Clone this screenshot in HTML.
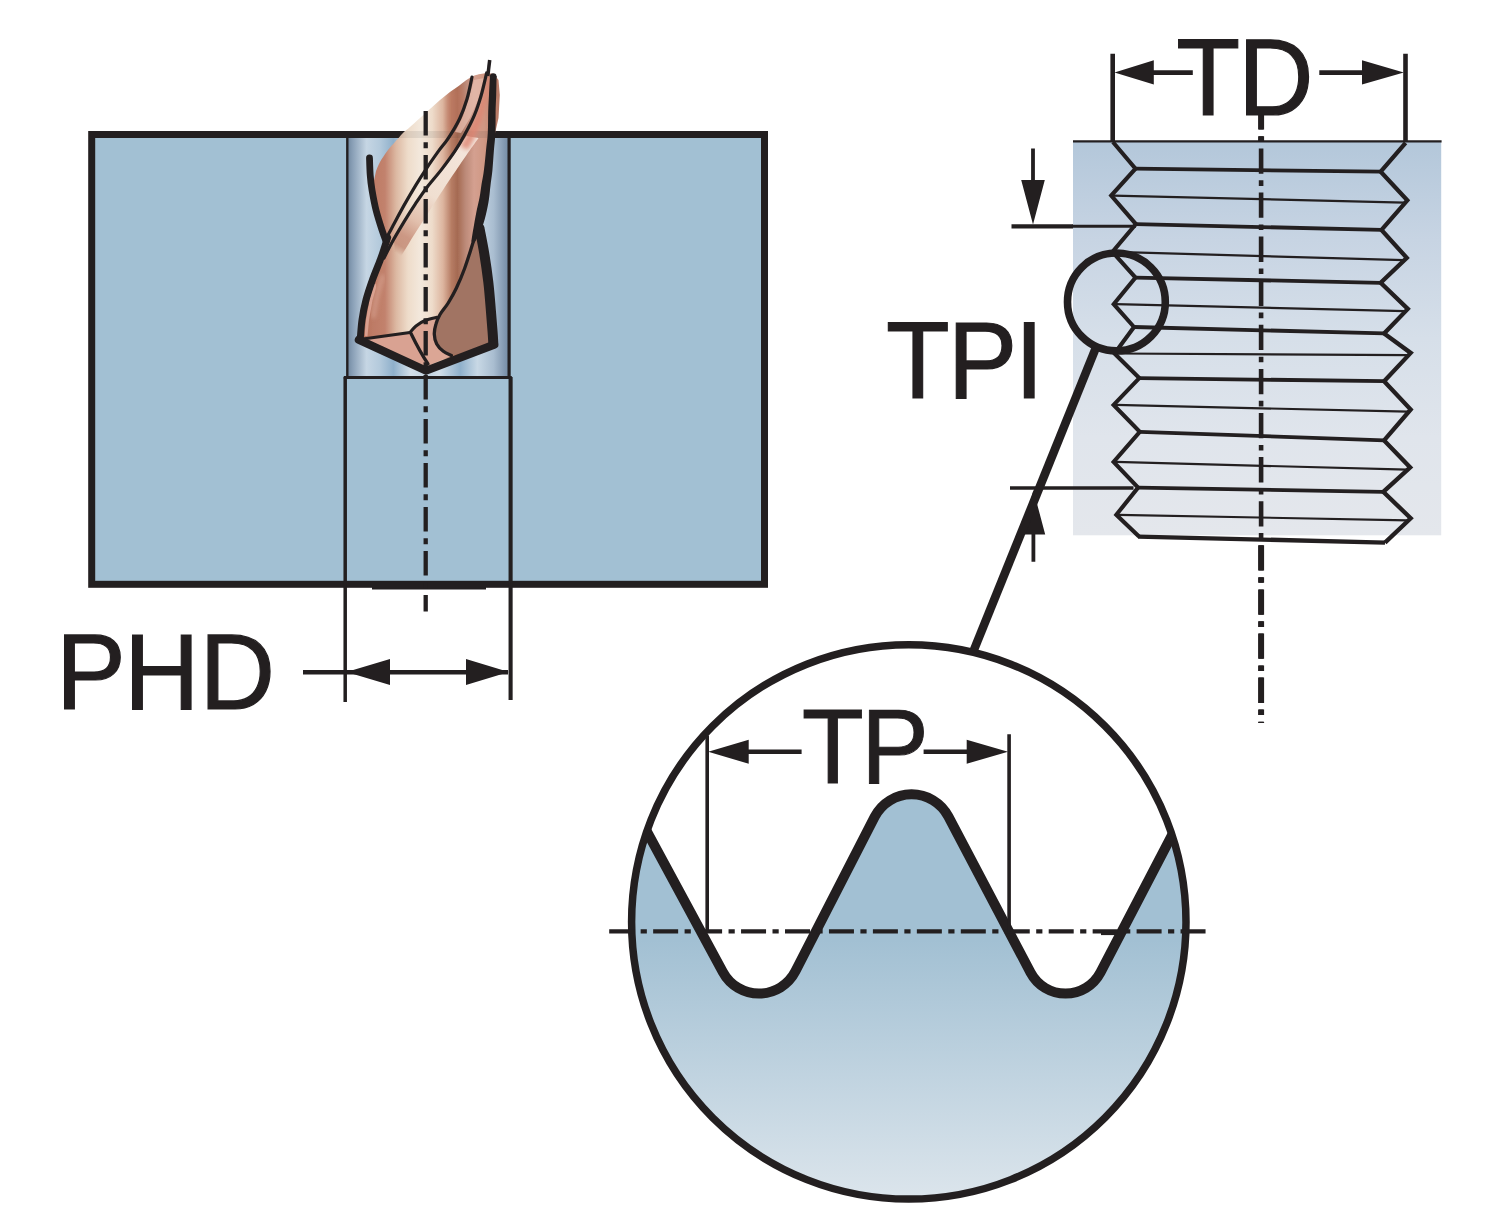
<!DOCTYPE html>
<html lang="en">
<head>
<meta charset="utf-8">
<title>PHD / TD / TPI / TP thread dimensions</title>
<style>
html,body{margin:0;padding:0;background:#fff;}
body{width:1500px;height:1223px;overflow:hidden;}
svg{display:block;}
text{font-family:"Liberation Sans",sans-serif;fill:#231f20;}
</style>
</head>
<body>
<svg width="1500" height="1223" viewBox="0 0 1500 1223">
<rect width="1500" height="1223" fill="#fff"/>
<defs>
<linearGradient id="gHole" gradientUnits="userSpaceOnUse" x1="347" y1="0" x2="510" y2="0">
 <stop offset="0" stop-color="#6f879f"/>
 <stop offset="0.035" stop-color="#8aa0b7"/>
 <stop offset="0.12" stop-color="#c6d6e4"/>
 <stop offset="0.20" stop-color="#b4cadc"/>
 <stop offset="0.285" stop-color="#8fb0cb"/>
 <stop offset="0.39" stop-color="#d3dfe9"/>
 <stop offset="0.50" stop-color="#c2d3e1"/>
 <stop offset="0.565" stop-color="#d3dfe9"/>
 <stop offset="0.695" stop-color="#8fb0cb"/>
 <stop offset="0.80" stop-color="#c8d8e5"/>
 <stop offset="0.90" stop-color="#a9bdd0"/>
 <stop offset="0.965" stop-color="#8298b0"/>
 <stop offset="1" stop-color="#6f879f"/>
</linearGradient>
<linearGradient id="gThread" gradientUnits="userSpaceOnUse" x1="0" y1="141" x2="0" y2="536">
 <stop offset="0" stop-color="#b3c7da"/>
 <stop offset="0.25" stop-color="#c7d4e3"/>
 <stop offset="0.5" stop-color="#d6dfe9"/>
 <stop offset="0.75" stop-color="#e0e5ec"/>
 <stop offset="1" stop-color="#e4e7ec"/>
</linearGradient>
<linearGradient id="gBig" gradientUnits="userSpaceOnUse" x1="0" y1="940" x2="0" y2="1200">
 <stop offset="0" stop-color="#a2c0d3"/>
 <stop offset="1" stop-color="#dce5ec"/>
</linearGradient>
<clipPath id="cOut"><path d="M1240 100 H1280 V141 H1240 Z M1240 540 H1280 V730 H1240 Z"/></clipPath>
<clipPath id="cBig"><circle cx="908.8" cy="921.9" r="277.2"/></clipPath>
</defs>
<g id="left">
<rect x="91.7" y="134.5" width="672.8" height="449.8" fill="#a2c0d3" stroke="#231f20" stroke-width="7"/>
<rect x="347" y="138" width="163" height="239.5" fill="url(#gHole)"/>
<path d="M347.3 137 V377.5" stroke="#231f20" stroke-width="2.4" fill="none"/>
<path d="M509.1 137 V377.5" stroke="#231f20" stroke-width="3.2" fill="none"/>
<path d="M343.8 377.5 H511.8" stroke="#231f20" stroke-width="2.8" fill="none"/>
<path d="M345.2 377 V702" stroke="#231f20" stroke-width="3.5" fill="none"/>
<path d="M510.6 377 V700" stroke="#231f20" stroke-width="4.1" fill="none"/>
<path d="M372 588.3 H486" stroke="#231f20" stroke-width="2.4" fill="none"/>
</g>
<g id="drill">
<defs>
<linearGradient id="gCu2" gradientUnits="userSpaceOnUse" x1="357" y1="0" x2="497" y2="0">
 <stop offset="0" stop-color="#b06a54"/>
 <stop offset="0.107" stop-color="#bd7a65"/>
 <stop offset="0.2" stop-color="#c2826d"/>
 <stop offset="0.279" stop-color="#dcb8a2"/>
 <stop offset="0.364" stop-color="#eedcca"/>
 <stop offset="0.45" stop-color="#f3e8dc"/>
 <stop offset="0.536" stop-color="#eedccb"/>
 <stop offset="0.615" stop-color="#dcb49e"/>
 <stop offset="0.675" stop-color="#b67c64"/>
 <stop offset="0.717" stop-color="#a56a52"/>
 <stop offset="0.775" stop-color="#bc8a78"/>
 <stop offset="0.836" stop-color="#d4a090"/>
 <stop offset="0.907" stop-color="#d09884"/>
 <stop offset="1" stop-color="#b87a66"/>
</linearGradient>
<filter id="fSoft" x="-5%" y="-5%" width="110%" height="110%"><feGaussianBlur stdDeviation="0.6"/></filter>
<linearGradient id="gStreak" gradientUnits="userSpaceOnUse" x1="470" y1="140" x2="398" y2="254">
 <stop offset="0" stop-color="#f4e6dc"/>
 <stop offset="0.5" stop-color="#f0dfd1"/>
 <stop offset="0.72" stop-color="#e2c0ad"/>
 <stop offset="0.86" stop-color="#cc9884"/>
 <stop offset="0.94" stop-color="#c38a75" stop-opacity="0.8"/>
 <stop offset="1" stop-color="#c08670" stop-opacity="0"/>
</linearGradient>
<filter id="fSoft3" x="-10%" y="-10%" width="120%" height="120%"><feGaussianBlur stdDeviation="0.7"/></filter>
<filter id="fSoft2" x="-20%" y="-20%" width="140%" height="140%"><feGaussianBlur stdDeviation="2"/></filter>
</defs>
<clipPath id="cBody"><path d="M487.0 73.0 C485.2 73.3 479.2 74.0 476.0 75.0 C472.8 76.0 470.7 77.3 468.0 79.0 C465.3 80.7 463.0 82.8 460.0 85.0 C457.0 87.2 453.3 89.5 450.0 92.0 C446.7 94.5 443.3 97.2 440.0 100.0 C436.7 102.8 433.3 106.0 430.0 109.0 C426.7 112.0 423.3 115.0 420.0 118.0 C416.7 121.0 412.8 124.5 410.0 127.0 C407.2 129.5 405.5 130.5 403.0 133.0 C400.5 135.5 397.5 139.2 395.0 142.0 C392.5 144.8 390.5 146.7 388.0 150.0 C385.5 153.3 382.0 158.5 380.0 162.0 C378.0 165.5 376.7 169.5 376.0 171.0 L372 190 L376 210 L382 230 L386 241 L384.6 247 L380.4 259.5 L372.6 279.5 L366 300 L362 320 L360.3 338 L358.8 339.8 L426 370.7 L494.3 344.6 L492.6 332 L491 312 L488.3 282 L484 252 L479.5 228 L483 205 L487 180 L490 155 L494 138 L498.5 118 L499.8 95 L498.5 80 L494 74 Z"/></clipPath>
<path d="M487.0 73.0 C485.2 73.3 479.2 74.0 476.0 75.0 C472.8 76.0 470.7 77.3 468.0 79.0 C465.3 80.7 463.0 82.8 460.0 85.0 C457.0 87.2 453.3 89.5 450.0 92.0 C446.7 94.5 443.3 97.2 440.0 100.0 C436.7 102.8 433.3 106.0 430.0 109.0 C426.7 112.0 423.3 115.0 420.0 118.0 C416.7 121.0 412.8 124.5 410.0 127.0 C407.2 129.5 405.5 130.5 403.0 133.0 C400.5 135.5 397.5 139.2 395.0 142.0 C392.5 144.8 390.5 146.7 388.0 150.0 C385.5 153.3 382.0 158.5 380.0 162.0 C378.0 165.5 376.7 169.5 376.0 171.0 L372 190 L376 210 L382 230 L386 241 L384.6 247 L380.4 259.5 L372.6 279.5 L366 300 L362 320 L360.3 338 L358.8 339.8 L426 370.7 L494.3 344.6 L492.6 332 L491 312 L488.3 282 L484 252 L479.5 228 L483 205 L487 180 L490 155 L494 138 L498.5 118 L499.8 95 L498.5 80 L494 74 Z" fill="url(#gCu2)" filter="url(#fSoft)"/>
<g clip-path="url(#cBody)">
<rect x="395" y="131" width="110" height="7" fill="#231f20" opacity="0.09"/>
<path d="M466.5 136.0 C464.8 138.6 460.1 145.8 456.2 151.4 C452.3 157.0 447.7 163.4 443.1 169.4 C438.5 175.4 432.8 181.7 428.4 187.4 C424.0 193.1 420.7 198.1 416.9 203.8 C413.1 209.5 409.3 215.5 405.5 221.8 C401.7 228.1 395.9 238.1 394.0 241.4 L395.5 263.0 C396.8 261.3 399.9 257.7 403.0 253.0 C406.1 248.3 410.3 240.8 414.0 235.0 C417.7 229.2 421.2 224.0 425.0 218.0 C428.8 212.0 432.9 205.3 437.0 199.0 C441.1 192.7 445.5 186.0 449.5 180.0 C453.5 174.0 457.6 168.0 461.0 163.0 C464.4 158.0 467.1 154.2 470.0 150.0 C472.9 145.8 477.1 140.0 478.5 138.0 Z" fill="url(#gStreak)" filter="url(#fSoft3)"/>
<path d="M447 95 L462 84 L466 100 L462 125 L452 140 L447 128 Z" fill="#c47862" opacity="0.45" filter="url(#fSoft2)"/>
<path d="M488.0 74.0 C487.1 77.7 484.5 89.1 482.5 96.0 C480.5 102.9 478.7 108.9 476.0 115.4 C473.3 121.9 469.2 129.9 466.5 135.0 C463.8 140.1 461.1 144.2 460.0 146.0 L468 150 C469.5 147.2 474.3 139.3 477.0 133.0 C479.7 126.7 482.0 119.2 484.0 112.0 C486.0 104.8 487.8 96.0 489.0 90.0 C490.2 84.0 490.7 78.3 491.0 76.0 Z" fill="#dd8471" opacity="0.8" filter="url(#fSoft2)"/>
<path d="M474 80 L484 78 L478 100 L470 118 L461 133 L455 132 L463 116 L469 98 Z" fill="#e6bcae" opacity="0.75" filter="url(#fSoft)"/>
<path d="M375.5 284 L371 300 L367.5 320 L366 336" fill="none" stroke="#e2ab9b" stroke-width="3" opacity="0.8" filter="url(#fSoft)"/>
<path d="M383 275 L377 296 L373 318" fill="none" stroke="#dfae9d" stroke-width="4" opacity="0.6" filter="url(#fSoft2)"/>
<path d="M476.0 232.7 C475.2 235.4 472.9 243.0 471.0 249.0 C469.1 255.0 466.9 262.1 464.5 268.7 C462.1 275.2 459.0 282.6 456.3 288.3 C453.6 294.0 450.9 298.6 448.2 303.0 C445.5 307.4 442.1 310.9 440.0 314.5 C437.9 318.1 436.8 321.0 435.9 324.3 C434.9 327.6 434.2 330.9 434.3 334.2 C434.4 337.5 435.2 341.1 436.7 344.0 C438.2 346.9 440.9 349.4 443.3 351.3 C445.8 353.2 450.0 354.7 451.4 355.4 L494.3 344.6 L492.6 332 L491 312 L488.3 282 L484 252 L479.5 228 Z" fill="#a17463"/>
<path d="M363 339 L410 332.5 L428 365 L426 371 Z" fill="#d9a292"/>
<path d="M410.0 332.5 C411.0 331.4 413.5 328.0 416.0 326.0 C418.5 324.0 421.5 321.9 425.0 320.5 C428.5 319.1 435.0 317.8 437.0 317.3 L434.5 328 L434 336 L437 344 L443 350 L451 355.5 L428 366 L411 333.5 Z" fill="#dba695"/>
</g>
<path d="M472.0 77.0 C471.2 80.7 469.1 92.0 467.0 99.0 C464.9 106.0 462.7 112.2 459.6 118.7 C456.5 125.2 451.8 132.9 448.2 138.3 C444.6 143.8 441.9 146.5 438.3 151.4 C434.8 156.3 430.7 162.1 426.9 167.8 C423.1 173.5 419.2 179.5 415.4 185.8 C411.6 192.1 407.5 199.1 404.0 205.4 C400.5 211.7 397.2 217.8 394.2 223.4 C391.2 229.0 387.4 236.4 386.0 239.0" fill="none" stroke="#231f20" stroke-linecap="round" stroke-linejoin="round" stroke-width="3.2"/>
<path d="M486.6 73.0 C485.7 76.8 483.1 88.9 481.0 96.0 C478.9 103.1 477.1 108.9 474.3 115.4 C471.6 121.9 467.8 129.0 464.5 135.0 C461.2 141.0 458.5 145.7 454.7 151.4 C450.9 157.1 446.2 163.4 441.6 169.4 C437.0 175.4 431.3 181.7 426.9 187.4 C422.5 193.1 419.2 198.1 415.4 203.8 C411.6 209.5 407.8 215.5 404.0 221.8 C400.2 228.1 395.8 235.4 392.5 241.4 C389.2 247.4 385.4 255.2 384.0 258.0" fill="none" stroke="#231f20" stroke-linecap="round" stroke-linejoin="round" stroke-width="3.2"/>
<path d="M476.0 232.7 C475.2 235.4 472.9 243.0 471.0 249.0 C469.1 255.0 466.9 262.1 464.5 268.7 C462.1 275.2 459.0 282.6 456.3 288.3 C453.6 294.0 450.9 298.6 448.2 303.0 C445.5 307.4 442.1 310.9 440.0 314.5 C437.9 318.1 436.8 321.0 435.9 324.3 C434.9 327.6 434.2 330.9 434.3 334.2 C434.4 337.5 435.2 341.1 436.7 344.0 C438.2 346.9 440.9 349.4 443.3 351.3 C445.8 353.2 450.0 354.7 451.4 355.4" fill="none" stroke="#231f20" stroke-linecap="round" stroke-linejoin="round" stroke-width="3.3"/>
<path d="M363 339 L410 332.5" fill="none" stroke="#231f20" stroke-linecap="round" stroke-linejoin="round" stroke-width="3"/>
<path d="M410.0 332.5 C411.0 331.4 413.5 328.0 416.0 326.0 C418.5 324.0 421.5 321.9 425.0 320.5 C428.5 319.1 435.0 317.8 437.0 317.3" fill="none" stroke="#231f20" stroke-linecap="round" stroke-linejoin="round" stroke-width="3"/>
<path d="M411 333.5 Q420 352 428 364" fill="none" stroke="#231f20" stroke-linecap="round" stroke-linejoin="round" stroke-width="3.3"/>
<path d="M489.7 60 L487.8 76" fill="none" stroke="#231f20" stroke-width="3.5"/>
<path d="M490.0 75.9 C489.8 79.0 489.3 88.9 489.0 94.9 C488.7 100.9 488.4 105.6 488.2 111.9 C488.0 118.2 488.2 126.5 487.8 132.8 C487.5 139.1 486.7 143.5 486.1 149.6 C485.5 155.8 484.8 163.7 484.0 169.5 C483.3 175.3 482.3 179.8 481.5 184.4 C480.8 189.0 480.5 192.4 479.6 197.2 C478.7 201.9 477.2 207.8 476.2 212.9 C475.2 218.0 474.3 223.1 473.5 227.9 C472.6 232.7 471.7 239.2 471.3 241.4 L474.7 242.6 C475.8 240.5 479.3 234.7 481.1 230.1 C483.0 225.5 484.5 220.3 485.8 215.1 C487.1 209.9 488.3 203.7 489.0 198.8 C489.8 193.9 489.9 190.3 490.5 185.6 C491.0 180.9 491.8 176.4 492.4 170.5 C492.9 164.6 493.4 156.6 493.9 150.4 C494.4 144.1 495.1 139.6 495.4 133.2 C495.7 126.8 495.5 118.4 495.6 112.1 C495.7 105.8 496.0 101.1 496.2 95.1 C496.4 89.1 496.5 79.3 496.6 76.1 Z" fill="#231f20"/>
<circle cx="493.2" cy="76.5" r="3.3" fill="#231f20"/>
<path d="M369.5 158.0 C369.6 160.8 369.8 169.7 370.2 175.0 C370.6 180.3 371.0 184.2 372.0 190.0 C373.0 195.8 374.3 203.3 376.0 210.0 C377.7 216.7 380.3 224.8 382.0 230.0 C383.7 235.2 385.3 239.2 386.0 241.0" fill="none" stroke="#231f20" stroke-linecap="round" stroke-linejoin="round" stroke-width="6.8"/>
<path d="M387.6 237.6 C387.1 239.2 385.8 243.3 384.6 247.0 C383.4 250.7 382.4 254.1 380.4 259.5 C378.4 264.9 375.0 272.8 372.6 279.5 C370.2 286.2 367.8 293.2 366.0 300.0 C364.2 306.8 362.9 313.7 362.0 320.0 C361.1 326.3 360.6 335.0 360.3 338.0" fill="none" stroke="#231f20" stroke-linecap="round" stroke-linejoin="round" stroke-width="7"/>
<path d="M479.5 228.0 C480.2 232.0 482.5 243.0 484.0 252.0 C485.5 261.0 487.1 272.0 488.3 282.0 C489.5 292.0 490.3 303.7 491.0 312.0 C491.7 320.3 492.2 326.8 492.6 332.0 C493.0 337.2 493.2 341.6 493.3 343.5" fill="none" stroke="#231f20" stroke-linecap="round" stroke-linejoin="round" stroke-width="10"/>
<path d="M358.8 339.8 L426 370.7 L494.3 344.6" fill="none" stroke="#231f20" stroke-width="8.1" stroke-linejoin="miter" stroke-linecap="round"/>
</g>
<path d="M425.7 111 V611.5" stroke="#231f20" stroke-width="4.3" stroke-dasharray="24.6 6.7 6 6.7" fill="none"/>
<path d="M303 672.3 H508" stroke="#231f20" stroke-width="4.5" fill="none"/>
<path d="M346.5 672 L390 659 V685 Z M508.8 672 L466 659 V685 Z" fill="#231f20"/>
<g id="thread">
<rect x="1073" y="141.3" width="368.2" height="394" fill="url(#gThread)"/>
<path d="M1073 141.4 H1441.6" stroke="#231f20" stroke-width="2.4" fill="none"/>
<path d="M1113.2 195.6 L1404.3 202.6 M1114.4 251.9 L1403.8 260.1 M1115.7 304.2 L1404.8 311.1 M1116.5 353.5 L1407.7 355.1 M1115.6 404.9 L1407.7 411.7 M1115.6 461.9 L1407.2 469.6 M1118.3 514.8 L1407.7 520.4 " stroke="#231f20" stroke-width="2.2" fill="none"/>
<path d="M1135.5 168.6 L1380.7 171.7 M1135.9 224.1 L1381.5 229.9 M1135.5 277.6 L1380.7 282.8 M1134.0 327.0 L1384.1 333.4 M1139.3 378.1 L1384.1 381.2 M1139.8 431.8 L1384.1 440.4 M1138.1 487.6 L1383.3 491.9 " stroke="#231f20" stroke-width="3.8" fill="none"/>
<path d="M1112.9 142.0 L1135.5 168.6 L1111.2 195.6 L1135.9 224.1 L1112.4 251.9 L1135.5 277.6 L1113.7 304.2 L1134.0 327.0 L1114.5 353.5 L1139.3 378.1 L1113.6 404.9 L1139.8 431.8 L1113.6 461.9 L1138.1 487.6 L1116.3 514.8 L1139.0 536.6" stroke="#231f20" stroke-width="4.1" fill="none" stroke-linejoin="miter"/>
<path d="M1405.6 142.9 L1380.7 171.7 L1407.3 200.4 L1381.5 229.9 L1406.8 257.9 L1380.7 282.8 L1407.8 308.9 L1384.1 333.4 L1410.7 352.9 L1384.1 381.2 L1410.7 409.5 L1384.1 440.4 L1410.2 467.4 L1383.3 491.9 L1410.7 518.2 L1385.0 542.6" stroke="#231f20" stroke-width="4.3" fill="none" stroke-linejoin="miter"/>
<path d="M1138.0 536.6 L1385.0 542.6" stroke="#231f20" stroke-width="4.4" fill="none"/>
</g>
<path d="M1261.1 113 V723" stroke="#231f20" stroke-width="4.6" stroke-dasharray="25.3 6.6 5.6 6.6" stroke-dashoffset="8.7" fill="none"/>
<path d="M1261.1 113 V723" stroke="#231f20" stroke-width="6" stroke-dasharray="25.3 6.6 5.6 6.6" stroke-dashoffset="8.7" fill="none" clip-path="url(#cOut)"/>
<path d="M1112.7 53.8 V142 M1405.5 53.8 V142" stroke="#231f20" stroke-width="4.6" fill="none"/>
<path d="M1150 72.6 H1192.8 M1319.3 72.6 H1365" stroke="#231f20" stroke-width="4.6" fill="none"/>
<path d="M1114.5 72.4 L1153.8 60.3 V84.5 Z M1403.8 72.4 L1362 60.3 V84.5 Z" fill="#231f20"/>
<path d="M1072 226.2 H1136" stroke="#231f20" stroke-width="2.9" fill="none"/>
<path d="M1011.5 226.3 H1073" stroke="#231f20" stroke-width="4.3" fill="none"/>
<path d="M1010 488 H1133.5" stroke="#231f20" stroke-width="3.3" fill="none"/>
<path d="M1033 148.5 V185 M1033.4 530 V561.7" stroke="#231f20" stroke-width="3.8" fill="none"/>
<path d="M1033 224.5 L1021.2 180 H1044.8 Z M1033.4 490 L1021.6 534.6 H1045.2 Z" fill="#231f20"/>
<circle cx="1116.4" cy="301.9" r="48.9" fill="none" stroke="#231f20" stroke-width="7.6"/>
<path d="M1095.6 348.5 L973.9 650" stroke="#231f20" stroke-width="8.6" fill="none"/>
<g id="big">
<circle cx="908.8" cy="921.9" r="277.2" fill="#fff"/>
<g clip-path="url(#cBig)">
<path d="M629.8 800.0 L722.9 972.1 A41.0 41.0 0 0 0 795.4 971.3 L874.7 816.8 A41.5 41.5 0 0 1 948.3 816.4 L1030.6 972.6 A39.5 39.5 0 0 0 1100.5 972.4 L1190.3 800.0 V1230 H600 V800.0 Z" fill="url(#gBig)"/>
<path d="M629.8 800.0 L722.9 972.1 A41.0 41.0 0 0 0 795.4 971.3 L874.7 816.8 A41.5 41.5 0 0 1 948.3 816.4 L1030.6 972.6 A39.5 39.5 0 0 0 1100.5 972.4 L1190.3 800.0" fill="none" stroke="#231f20" stroke-width="10" stroke-linejoin="round"/>
</g>
<circle cx="908.8" cy="921.9" r="277.2" fill="none" stroke="#231f20" stroke-width="7.5"/>
<path d="M609.2 931.4 H1207.1" stroke="#231f20" stroke-width="4.1" stroke-dasharray="25 6.45 6.2 6.3" fill="none"/>
<path d="M707.2 735.5 V932 M1009.1 734.2 V932" stroke="#231f20" stroke-width="3.6" fill="none"/>
<path d="M1101 933.6 H1117" stroke="#231f20" stroke-width="3" fill="none"/>
<path d="M745 751.7 H801.6 M923.6 751.7 H970" stroke="#231f20" stroke-width="4.5" fill="none"/>
<path d="M708.2 751.7 L748.7 739.7 V763.7 Z M1008 751.7 L966.7 739.7 V763.7 Z" fill="#231f20"/>
</g>
<g id="labels" stroke="#231f20" stroke-width="1.2" stroke-linejoin="miter">
<text id="tPHD" font-size="107.7" transform="translate(56 709.4) scale(0.972 1)" x="0 70 147.7">PHD</text>
<text id="tTD" font-size="109.2" transform="translate(1176.3 114.9) scale(0.958 1)" x="0 64.3">TD</text>
<text id="tTPI" font-size="109.2" transform="translate(886 397.6) scale(0.955 1)" x="0 64.65 134.8">TPI</text>
<text id="tTP" font-size="106" stroke-width="0.9" transform="translate(801.7 782.55) scale(0.96 1)" x="0 61.9">TP</text>
</g>

</svg>
</body>
</html>
